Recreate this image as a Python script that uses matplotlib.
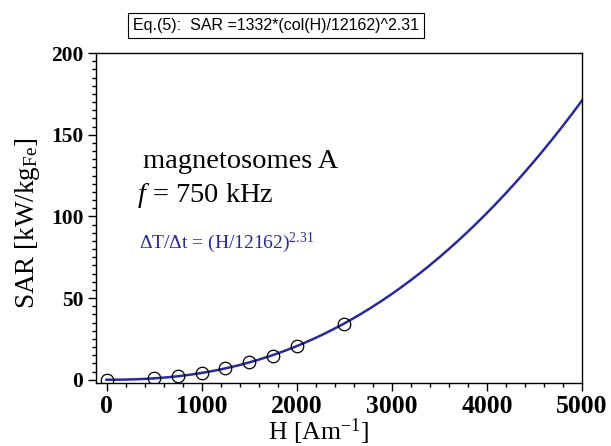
import numpy as np
import matplotlib
matplotlib.use("Agg")
import matplotlib.pyplot as plt
from matplotlib.ticker import MultipleLocator

# Data
H_points = [0, 500, 750, 1000, 1250, 1500, 1750, 2000, 2500]
SAR_points = [0.0, 1.0, 2.0, 4.1, 6.9, 10.6, 14.8, 20.7, 34.0]

# Fit equation parameters shown in the chart
fit_A = 1332.0
fit_H0 = 12162.0
fit_n = 2.31
H_fit_range = [0, 5000]

x_ticks = [0, 1000, 2000, 3000, 4000, 5000]
y_ticks = [0, 50, 100, 150, 200]

plt.rcParams['mathtext.fontset'] = 'custom'
plt.rcParams['mathtext.rm'] = 'Liberation Serif'
plt.rcParams['mathtext.it'] = 'Liberation Serif:italic'
plt.rcParams['mathtext.bf'] = 'Liberation Serif:bold'
serif = ['Liberation Serif', 'DejaVu Serif']

W, Hpx = 611, 446
fig = plt.figure(figsize=(W / 100, Hpx / 100), dpi=100)
ax = fig.add_axes([0.157, 0.142, 0.7955, 0.739])

H_curve = np.linspace(H_fit_range[0], H_fit_range[1], 400)
SAR_curve = fit_A * (H_curve / fit_H0) ** fit_n
line_color = '#2a2a96'
ax.plot(H_curve, SAR_curve, color=line_color, lw=1.8, zorder=2)
ax.plot(H_points, SAR_points, linestyle='none', marker='o', ms=9,
        mfc='none', mec='black', mew=0.9, zorder=3)

ax.set_xlim(-112, 5000)
ax.set_ylim(-1.8, 200)
ax.set_xticks(x_ticks)
ax.set_yticks(y_ticks)
ax.xaxis.set_minor_locator(MultipleLocator(200))
ax.yaxis.set_minor_locator(MultipleLocator(5))
ax.tick_params(which='both', direction='out', top=False, right=False, width=1)
ax.tick_params(which='major', length=6, pad=3)
ax.tick_params(which='minor', length=3)
for lab in ax.get_xticklabels():
    lab.set_fontfamily(serif)
    lab.set_fontweight('bold')
    lab.set_fontsize(18.5)
for lab in ax.get_yticklabels():
    lab.set_fontfamily(serif)
    lab.set_fontweight('bold')
    lab.set_fontsize(15.5)
for sp in ax.spines.values():
    sp.set_linewidth(1.0)

def fx(px):
    return px / W

def fy(py):
    return 1 - py / Hpx

# Axis labels
fig.text(fx(318), fy(440), r'H [Am$^{\mathrm{-1}}$]', fontfamily=serif, fontsize=18.5,
         ha='center', va='baseline')
fig.text(fx(34), fy(223), r'SAR [kW/kg$_{\mathrm{Fe}}$]', fontfamily=serif, fontsize=19.5,
         rotation=90, rotation_mode='anchor', ha='center', va='baseline')

fig.text(fx(143), fy(168), 'magnetosomes A', fontfamily=serif, fontsize=20.5,
         ha='left', va='baseline')
fig.text(fx(137), fy(202), r'$f$ = 750 kHz', fontfamily=serif, fontsize=20.5,
         ha='left', va='baseline')
fig.text(fx(139), fy(248), r'ΔT/Δt = (H/12162)$^{\mathrm{2.31}}$', fontfamily=serif,
         fontsize=14, color=line_color, ha='left', va='baseline')

fig.text(fx(276), fy(25.5), 'Eq.(5):  SAR =1332*(col(H)/12162)^2.31',
         fontfamily=['Liberation Sans', 'DejaVu Sans'], fontsize=11.5,
         ha='center', va='center',
         bbox=dict(boxstyle='square,pad=0.3', fc='white', ec='black', lw=0.8))

fig.savefig('out.png', dpi=100)
